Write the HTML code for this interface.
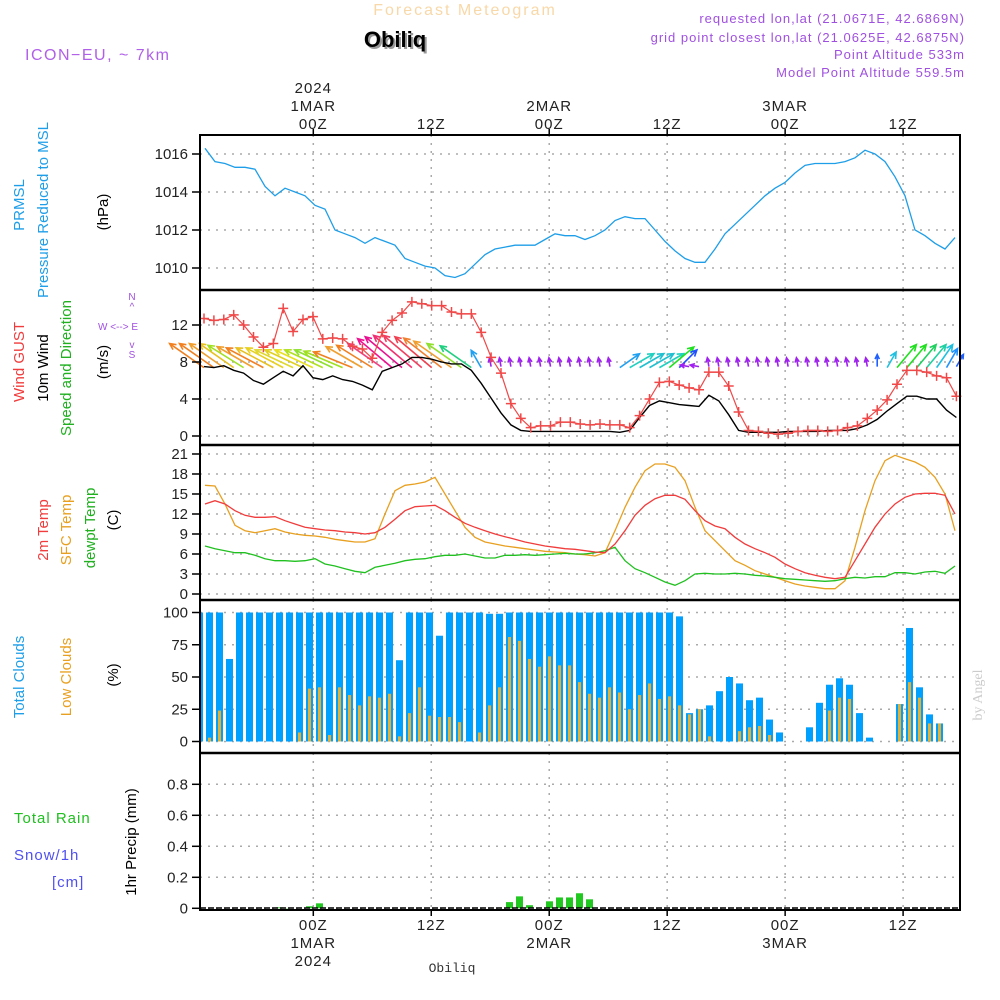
<!DOCTYPE html>
<html><head><meta charset="utf-8"><style>
html,body{margin:0;padding:0;background:#fff;}
svg{display:block;font-family:"Liberation Sans",sans-serif;}
</style></head><body>
<svg id="chart" width="1000" height="1000" viewBox="0 0 1000 1000" xmlns="http://www.w3.org/2000/svg">
<text x="465" y="15" font-size="16" fill="#f8d8a8" text-anchor="middle" letter-spacing="2">Forecast Meteogram</text>
<text x="397" y="49" font-size="22" font-weight="bold" fill="#999" text-anchor="middle">Obiliq</text>
<text x="395" y="47" font-size="22" font-weight="bold" fill="#000" text-anchor="middle">Obiliq</text>
<text x="25" y="60" font-size="16" fill="#b060e8" letter-spacing="1.5">ICON−EU, ~ 7km</text>
<g font-size="13" fill="#a050e0" text-anchor="end" letter-spacing="1">
<text x="965" y="23">requested lon,lat (21.0671E, 42.6869N)</text>
<text x="965" y="42">grid point closest lon,lat (21.0625E, 42.6875N)</text>
<text x="965" y="59">Point Altitude 533m</text>
<text x="965" y="77">Model Point Altitude 559.5m</text>
</g>
<g id="grid"></g>
<g id="marks"></g>
<g id="frame"></g>
<g id="axes" font-size="15" fill="#222"></g>
<g font-size="15">
<text transform="translate(24,205) rotate(-90)" text-anchor="middle" fill="#1e9ee8">PRMSL</text>
<text transform="translate(48,210) rotate(-90)" text-anchor="middle" fill="#1e9ee8">Pressure Reduced to MSL</text>
<text transform="translate(108,212) rotate(-90)" text-anchor="middle" fill="#000">(hPa)</text>
<text transform="translate(24,362) rotate(-90)" text-anchor="middle" fill="#f03c3c">Wind GUST</text>
<text transform="translate(48,368) rotate(-90)" text-anchor="middle" fill="#000">10m Wind</text>
<text transform="translate(71,368) rotate(-90)" text-anchor="middle" fill="#20b020">Speed and Direction</text>
<text transform="translate(108,362) rotate(-90)" text-anchor="middle" fill="#000">(m/s)</text>
<g font-size="10" fill="#a050e0"><text x="132" y="300" text-anchor="middle">N</text><text x="132" y="310" text-anchor="middle">^</text><text x="98" y="330">W &lt;--&gt; E</text><text x="132" y="348" text-anchor="middle">v</text><text x="132" y="358" text-anchor="middle">S</text></g>
<text transform="translate(48,530) rotate(-90)" text-anchor="middle" fill="#f03c3c">2m Temp</text>
<text transform="translate(71,530) rotate(-90)" text-anchor="middle" fill="#e8a020">SFC Temp</text>
<text transform="translate(95,528) rotate(-90)" text-anchor="middle" fill="#20b020">dewpt Temp</text>
<text transform="translate(118,520) rotate(-90)" text-anchor="middle" fill="#000">(C)</text>
<text transform="translate(24,677) rotate(-90)" text-anchor="middle" fill="#1e9ee8">Total Clouds</text>
<text transform="translate(71,677) rotate(-90)" text-anchor="middle" fill="#e8a020">Low Clouds</text>
<text transform="translate(118,675) rotate(-90)" text-anchor="middle" fill="#000">(%)</text>
<text x="14" y="823" fill="#20c020" letter-spacing="1">Total  Rain</text>
<text x="14" y="860" fill="#5050f0" letter-spacing="1">Snow/1h</text>
<text x="52" y="887" fill="#5050f0" letter-spacing="1">[cm]</text>
<text transform="translate(136,842) rotate(-90)" text-anchor="middle" fill="#000">1hr Precip (mm)</text>
<text transform="translate(982,695) rotate(-90)" text-anchor="middle" fill="#ccc" font-family="Liberation Serif,serif" font-size="14">by Angel</text>
<text x="452" y="972" text-anchor="middle" fill="#333" font-size="13" font-family="Liberation Mono,monospace">Obiliq</text>
</g>
</svg>
<script>
const pressure=[1016.3,1015.6,1015.5,1015.3,1015.3,1015.2,1014.3,1013.8,1014.2,1014.0,1013.8,1013.3,1013.1,1012.0,1011.8,1011.6,1011.3,1011.6,1011.4,1011.2,1010.5,1010.3,1010.1,1010.0,1009.6,1009.5,1009.7,1010.2,1010.7,1011.0,1011.1,1011.2,1011.2,1011.2,1011.5,1011.8,1011.7,1011.7,1011.5,1011.7,1012.0,1012.5,1012.7,1012.6,1012.6,1012.0,1011.4,1010.9,1010.5,1010.3,1010.3,1011.0,1011.8,1012.3,1012.8,1013.3,1013.8,1014.2,1014.5,1015.0,1015.4,1015.5,1015.5,1015.5,1015.6,1015.8,1016.2,1016.0,1015.6,1014.8,1013.8,1012.0,1011.7,1011.3,1011.0,1011.6];
const gust=[12.7,12.5,12.6,13.1,12.0,10.7,9.6,10.0,13.8,11.3,12.6,12.9,10.5,10.6,10.5,9.7,9.4,8.4,11.2,12.5,13.3,14.5,14.3,14.1,14.1,13.4,13.2,13.2,11.2,8.5,6.8,3.5,1.9,0.9,1.1,1.1,1.5,1.5,1.3,1.2,1.3,1.2,1.2,0.9,2.2,4.0,5.8,5.9,5.5,5.2,5.0,6.9,6.9,5.4,2.6,0.6,0.5,0.3,0.2,0.3,0.5,0.6,0.6,0.5,0.6,0.9,1.1,1.9,2.8,3.9,5.6,7.1,7.1,6.9,6.5,6.3,4.3];
const wind=[7.5,7.4,7.6,7.1,6.8,6.0,5.6,6.3,7.0,6.5,7.6,6.3,6.1,6.5,6.1,5.9,5.5,5.0,7.0,7.4,7.8,8.5,8.5,8.3,8.0,7.8,7.8,7.1,5.7,4.1,2.5,1.2,0.6,0.5,0.5,0.5,0.5,0.5,0.5,0.5,0.5,0.5,0.4,0.6,2.0,3.3,3.8,3.6,3.4,3.3,3.2,4.4,3.8,2.3,0.6,0.4,0.4,0.4,0.4,0.5,0.5,0.5,0.5,0.6,0.6,0.6,0.8,1.2,1.8,2.7,3.5,4.3,4.3,4.0,4.0,2.8,2.0];
const windDir=[145,145,145,145,148,150,152,152,152,155,155,155,155,155,157,158,150,148,145,140,140,140,140,140,142,145,145,145,120,100,100,100,100,100,100,100,100,100,100,100,100,100,35,30,30,30,30,40,45,170,170,100,100,100,100,100,100,100,100,100,100,100,100,100,100,100,100,100,90,60,50,50,50,50,55,60,60];
const windLen=[42,42,42,42,42,42,42,42,42,42,42,42,42,42,42,42,42,42,42,45,48,50,50,48,48,46,42,38,20,9,9,9,9,9,9,9,9,9,9,9,9,9,24,28,28,28,28,32,25,9,9,9,9,9,9,9,9,9,9,9,9,9,9,9,9,9,9,9,12,18,30,30,30,30,28,22,14];
const windCol=["#f08020","#f08020","#f0a030","#e8c020","#a0e020","#f0a030","#f08020","#e8c020","#e8d020","#e0d830","#e0d020","#e8e020","#b0e020","#90e030","#a0e020","#f08020","#f0a030","#f08020","#f04080","#f01090","#e81090","#f03070","#f04060","#f04050","#f08030","#f0a030","#90e030","#20d080","#20a0f0","#a020f0","#a020f0","#a020f0","#a020f0","#a020f0","#a020f0","#a020f0","#a020f0","#a020f0","#a020f0","#a020f0","#a020f0","#a020f0","#20a0f0","#20d0c0","#20c0d0","#20c0d0","#20d0c0","#20e020","#2050ff","#a020f0","#a020f0","#a020f0","#a020f0","#a020f0","#a020f0","#a020f0","#a020f0","#a020f0","#a020f0","#a020f0","#a020f0","#a020f0","#a020f0","#a020f0","#a020f0","#a020f0","#a020f0","#a020f0","#2060ff","#20c0e0","#20e020","#20e020","#20d060","#20d0a0","#20c0e0","#2090ff","#2060ff"];
const t2m=[13.5,14,13.5,12.5,11.8,11.5,11.5,11.6,11.0,10.5,10.0,9.8,9.6,9.5,9.3,9.2,9.0,9.2,10,11.2,12.5,13.1,13.2,13.3,12.5,11.5,10.6,10,9.5,9.0,8.6,8.2,7.8,7.5,7.2,7.0,6.8,6.7,6.5,6.3,6.2,7.5,9.5,11.8,13.3,14.3,14.8,14.8,14.2,12.5,11,10.2,9.8,8.5,7.5,6.8,6.2,5.5,4.5,3.8,3.2,2.8,2.5,2.3,2.5,5,7.5,10,12,13.5,14.5,15,15.1,15.1,14.8,12];
const tsfc=[16.3,16.2,13.5,10.3,9.5,9.2,9.5,9.8,9.3,9.0,8.8,8.7,8.5,8.2,8.0,7.8,7.8,8.3,12,15.5,16.3,16.5,16.8,17.5,15,12.5,10,8.5,7.8,7.5,7.2,7.0,6.8,6.6,6.4,6.3,6.2,6.0,5.9,5.7,6.2,9.5,13,16,18.5,19.5,19.5,19,17,13,9.5,8,6.5,5,4.3,3.5,3,2.5,2,1.5,1.2,1.0,0.8,0.8,2,7,12.5,17,20,20.8,20.3,19.8,19,17.5,15,9.5];
const tdew=[7.2,6.8,6.5,6.2,6.2,5.8,5.3,5.0,5.0,4.9,5.0,5.3,4.5,4.2,3.8,3.4,3.2,4,4.3,4.6,5,5.2,5.3,5.6,5.8,5.8,6,5.7,5.4,5.4,5.8,5.8,5.9,5.8,5.9,6,6.1,6.0,6.0,6.2,6.5,7,5,3.8,3.2,2.5,1.8,1.3,2,3,3.1,3,3,3.1,3,2.8,2.7,2.5,2.3,2.2,2.1,2.0,1.9,2.0,2.3,2.5,2.4,2.6,2.6,3.2,3.2,3.0,3.3,3.4,3.1,4.2];
const totalClouds=[100,100,100,64,100,100,100,100,100,100,100,100,100,100,100,100,100,100,100,100,63,100,100,100,82,100,100,100,100,99,99,100,100,100,100,100,100,100,100,100,100,100,100,100,100,100,100,100,97,22,25,28,39,50,45,32,34,17,7,0,0,11,30,44,49,44,22,3,0,0,29,88,42,21,14,0];
const lowClouds=[45,3,24,0,0,0,0,0,0,0,7,41,42,5,42,36,28,35,34,37,4,22,42,20,19,19,15,0,7,28,42,81,78,64,58,66,59,59,46,37,34,42,38,25,36,45,33,35,28,21,25,4,0,0,8,11,12,5,0,0,0,0,0,24,34,33,0,0,0,0,29,46,34,14,14,0];
const precip=[0,0,0,0,0,0,0,0,0.006,0.002,0,0.013,0.032,0,0,0,0,0,0,0,0,0,0,0,0,0,0,0,0,0,0,0.04,0.077,0.02,0,0.045,0.07,0.07,0.097,0.058,0,0,0,0,0,0,0,0,0,0,0,0,0,0,0,0,0,0,0,0,0,0,0,0,0,0,0,0,0,0,0,0,0,0,0,0];
const pTicks=[1010,1012,1014,1016];
const wTicks=[0,4,8,12];
const tTicks=[0,3,6,9,12,15,18,21];
const cTicks=[0,25,50,75,100];
const rTicks=[0,0.2,0.4,0.6,0.8];
const timeTicks=[0,12,24,36,48,60];
const topLabels=[["2024","1MAR","00Z"],["","","12Z"],["","2MAR","00Z"],["","","12Z"],["","3MAR","00Z"],["","","12Z"]];
const botLabels=[["00Z","1MAR","2024"],["12Z","",""],["00Z","2MAR",""],["12Z","",""],["00Z","3MAR",""],["12Z","",""]];

const NS="http://www.w3.org/2000/svg";
function mk(tag,attrs,parent){const e=document.createElementNS(NS,tag);for(const k in attrs)e.setAttribute(k,attrs[k]);parent.appendChild(e);return e;}
const L=200,R=960;
const xT=h=>313.3+9.83*h;
const xA=i=>205+10*i;
const xW=i=>204+9.9*i;
const xB=i=>199.5+10*i;
const yP=v=>268-(v-1010)*19;
const yW=v=>436-v*9.25;
const yTm=v=>594-v*6.667;
const yC=v=>741.5-v*1.29;
const yR=v=>908.3-v*155;
const grid=document.getElementById('grid'),marks=document.getElementById('marks'),frame=document.getElementById('frame'),axes=document.getElementById('axes');
const panels=[[135,290,pTicks,yP,v=>v],[290,445,wTicks,yW,v=>v],[445,600,tTicks,yTm,v=>v],[600,753,cTicks,yC,v=>v],[753,910,rTicks,yR,v=>v===0?"0":v.toFixed(1)]];
panels.forEach(([t,b,ticks,fy,fmt])=>{
  ticks.forEach(v=>{const y=fy(v);
    const gl=mk('line',{x1:L,x2:R,y1:y,y2:y,stroke:'#aaa','stroke-dasharray':'2,6','stroke-width':1.5},grid);
    
    
    const tk=mk('line',{x1:L-8,x2:L,y1:y,y2:y,stroke:'#000','stroke-width':1.5},axes);
    
    
    const tl=mk('text',{x:L-12,y:y+5,'text-anchor':'end'},axes);tl.textContent=fmt(v);
    
    
  });
  timeTicks.forEach(h=>{const x=xT(h);
    const gl=mk('line',{x1:x,x2:x,y1:t,y2:b,stroke:'#aaa','stroke-dasharray':'2,6','stroke-width':1.5},grid);
    
    
  });
});
const fr=mk('rect',{x:L,y:135,width:R-L,height:775,fill:'none',stroke:'#000','stroke-width':2},frame);


[290,445,600,753].forEach(y=>{const s=mk('line',{x1:L,x2:R,y1:y,y2:y,stroke:'#000','stroke-width':2.5},frame);
  
  });
timeTicks.forEach((h,k)=>{const x=xT(h);
  mk('line',{x1:x,x2:x,y1:129,y2:135,stroke:'#000','stroke-width':1.5},axes);
  mk('line',{x1:x,x2:x,y1:910,y2:916,stroke:'#000','stroke-width':1.5},axes);
  topLabels[k].forEach((s,j)=>{if(!s)return;const e=mk('text',{x:x,y:93+j*18,'text-anchor':'middle','letter-spacing':1},axes);e.textContent=s;
    
    });
  botLabels[k].forEach((s,j)=>{if(!s)return;const e=mk('text',{x:x,y:930+j*18,'text-anchor':'middle','letter-spacing':1},axes);e.textContent=s;
    
    });
});
function line(arr,fx,fy,col,name,w){const d=arr.map((v,i)=>(i?'L':'M')+fx(i).toFixed(1)+','+fy(v).toFixed(1)).join('');
  const p=mk('path',{d:d,fill:'none',stroke:col,'stroke-width':w||1.3},marks);
  
  }
line(pressure,xA,yP,'#1e9ee8','pressure-line');
totalClouds.forEach((v,i)=>{if(v<=0)return;const x=Math.max(L,xB(i)-3.5);const w=xB(i)+3.5-x;
  const r=mk('rect',{x:x,y:yC(v),width:w,height:yC(0)-yC(v),fill:'#00a0ff'},marks);
  
  });
lowClouds.forEach((v,i)=>{if(v<=0)return;const x=Math.max(L,xB(i)-1.5);const w=xB(i)+1.5-x;
  const r=mk('rect',{x:x,y:yC(v),width:w,height:yC(0)-yC(v),fill:'#e8b030'},marks);
  
  });
precip.forEach((v,i)=>{if(v<=0)return;
  const r=mk('rect',{x:xB(i)-3.5,y:yR(v),width:7,height:yR(0)-yR(v),fill:'#20c820'},marks);
  
  });
windDir.forEach((a,i)=>{const x=xW(i),y=yW(7.5)+(windLen[i]>15?1:0);const rad=a*Math.PI/180,len=windLen[i];
  const x2=x+Math.cos(rad)*len,y2=y-Math.sin(rad)*len;const hl=len>15?7:5;
  const h1=rad+Math.PI-0.45,h2=rad+Math.PI+0.45;
  const d=`M${x},${y}L${x2},${y2}M${x2+Math.cos(h1)*hl},${y2-Math.sin(h1)*hl}L${x2},${y2}L${x2+Math.cos(h2)*hl},${y2-Math.sin(h2)*hl}`;
  const p=mk('path',{d:d,fill:'none',stroke:windCol[i],'stroke-width':1.6},marks);
  
  });
line(wind,xW,yW,'#000','wind-speed-line',1.4);
line(gust,xW,yW,'#f04848','gust-line',1.2);
gust.forEach((v,i)=>{const x=xW(i),y=yW(v);
  const p=mk('path',{d:`M${x-5},${y}H${x+5}M${x},${y-5}V${y+5}`,stroke:'#f04848','stroke-width':1.5},marks);
  
  });
line(tsfc,xA,yTm,'#e8a020','sfc-temp-line');
line(tdew,xA,yTm,'#20c020','dewpoint-line');
line(t2m,xA,yTm,'#f03c3c','temp-2m-line');
const bl=mk('line',{x1:L,x2:R,y1:908,y2:908,stroke:'#000','stroke-width':1.5,'stroke-dasharray':'6,2'},marks);


</script>
</body></html>
